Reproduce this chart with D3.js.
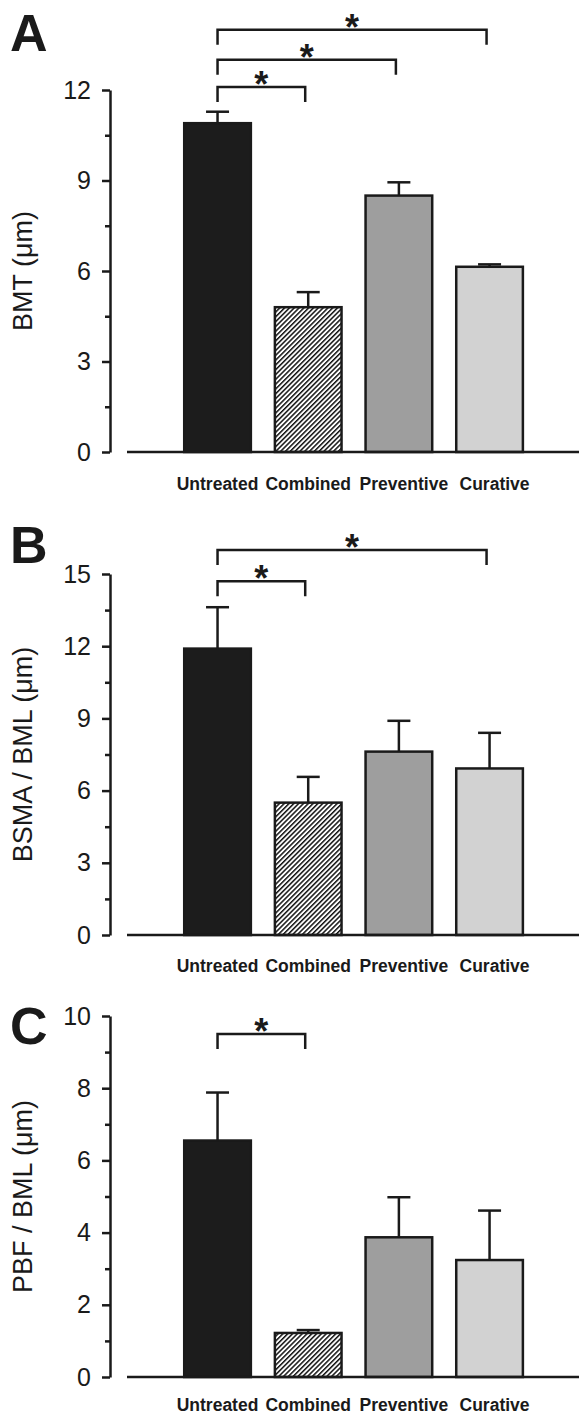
<!DOCTYPE html>
<html>
<head>
<meta charset="utf-8">
<script src="https://cdn.jsdelivr.net/npm/d3@7"></script>
<style>
  body { margin: 0; background: #fff; }
  svg { display: block; }
  text { font-family: "Liberation Sans", Arial, sans-serif; fill: #1a1a1a; }
</style>
</head>
<body>
<svg id="chart" width="579" height="1415"></svg>
<script>
// groups on the x axis
var categories = ["Untreated", "Combined", "Preventive", "Curative"];

// A: BMT (um)
var bmtMean = [10.9, 4.8, 8.5, 6.14];
var bmtErr = [0.38, 0.5, 0.44, 0.08];
var bmtTicks = [0, 3, 6, 9, 12];
var bmtMinor = [1.5, 4.5, 7.5, 10.5];
// [from, to, level]
var bmtSig = [[0, 1, 12.1], [0, 2, 13.0], [0, 3, 14.0]];

// B: BSMA / BML (um)
var bsmaMean = [11.9, 5.5, 7.62, 6.92];
var bsmaErr = [1.72, 1.07, 1.28, 1.48];
var bsmaTicks = [0, 3, 6, 9, 12, 15];
var bsmaMinor = [1.5, 4.5, 7.5, 10.5, 13.5];
var bsmaSig = [[0, 1, 14.7], [0, 3, 16.0]];

// C: PBF / BML (um)
var pbfMean = [6.55, 1.22, 3.87, 3.24];
var pbfErr = [1.33, 0.08, 1.11, 1.37];
var pbfTicks = [0, 2, 4, 6, 8, 10];
var pbfMinor = [1, 3, 5, 7, 9];
var pbfSig = [[0, 1, 9.5]];

var fills = ["#1c1c1c", "url(#hatch)", "#9e9e9e", "#d2d2d2"];
// category text sits a little off the bar centres in the original
var labelShift = [0, 0, 5, 5];

var svg = d3.select("#chart");

// diagonal hatch for the Combined bar
var hw = 3.4;
var pat = svg.append("defs").append("pattern")
  .attr("id", "hatch")
  .attr("patternUnits", "userSpaceOnUse")
  .attr("width", hw)
  .attr("height", hw)
  .attr("patternTransform", "rotate(45)");
pat.append("rect").attr("width", hw).attr("height", hw).attr("fill", "#fff");
pat.append("line")
  .attr("x1", 0).attr("y1", 0).attr("x2", 0).attr("y2", hw)
  .attr("stroke", "#111").attr("stroke-width", 3);

var x = d3.scaleBand()
  .domain(categories)
  .range([172.2, 534.9])
  .paddingInner(0.265)
  .paddingOuter(0.1325);

var panels = [
  { letter: "A", label: "BMT (\u03bcm)", mean: bmtMean, err: bmtErr, ticks: bmtTicks, minor: bmtMinor,
    sig: bmtSig, max: 12, top: 90, bottom: 452, letterY: 51, catY: 490 },
  { letter: "B", label: "BSMA / BML (\u03bcm)", mean: bsmaMean, err: bsmaErr, ticks: bsmaTicks, minor: bsmaMinor,
    sig: bsmaSig, max: 15, top: 574, bottom: 935, letterY: 563, catY: 972 },
  { letter: "C", label: "PBF / BML (\u03bcm)", mean: pbfMean, err: pbfErr, ticks: pbfTicks, minor: pbfMinor,
    sig: pbfSig, max: 10, top: 1016, bottom: 1377, letterY: 1044, catY: 1411 }
];

var axisX = 110;

panels.forEach(function(p) {
  var y = d3.scaleLinear().domain([0, p.max]).range([p.bottom, p.top]);
  var g = svg.append("g");

  // bars
  g.selectAll("rect.bar")
    .data(p.mean)
    .enter().append("rect")
      .attr("class", "bar")
      .attr("x", (d, i) => x(categories[i]))
      .attr("y", d => y(d))
      .attr("width", x.bandwidth())
      .attr("height", d => y(0) - y(d))
      .attr("fill", (d, i) => fills[i])
      .attr("stroke", "#1a1a1a")
      .attr("stroke-width", 2.5);

  // upper error bars
  var eb = g.selectAll("g.err")
    .data(p.mean)
    .enter().append("g")
      .attr("class", "err")
      .attr("stroke", "#1a1a1a")
      .attr("stroke-width", 2.5);
  eb.append("line")
    .attr("x1", (d, i) => x(categories[i]) + x.bandwidth() / 2)
    .attr("x2", (d, i) => x(categories[i]) + x.bandwidth() / 2)
    .attr("y1", d => y(d))
    .attr("y2", (d, i) => y(d + p.err[i]));
  eb.append("line")
    .attr("x1", (d, i) => x(categories[i]) + x.bandwidth() / 2 - 11.5)
    .attr("x2", (d, i) => x(categories[i]) + x.bandwidth() / 2 + 11.5)
    .attr("y1", (d, i) => y(d + p.err[i]))
    .attr("y2", (d, i) => y(d + p.err[i]));

  // baseline
  g.append("line")
    .attr("x1", 127).attr("x2", 579)
    .attr("y1", y(0)).attr("y2", y(0))
    .attr("stroke", "#1a1a1a")
    .attr("stroke-width", 2.5);

  // y axis, major + minor ticks
  var ax = g.append("g")
    .attr("transform", "translate(" + axisX + ",0)")
    .call(d3.axisLeft(y).tickValues(p.ticks).tickSize(8).tickSizeOuter(0).tickPadding(11));
  ax.selectAll("path, line").attr("stroke", "#1a1a1a").attr("stroke-width", 2.5);
  ax.selectAll("text")
    .attr("font-size", 25)
    .attr("font-family", "Liberation Sans, Arial, sans-serif")
    .attr("fill", "#1a1a1a");

  var mx = g.append("g")
    .attr("transform", "translate(" + axisX + ",0)")
    .call(d3.axisLeft(y).tickValues(p.minor).tickSize(5).tickFormat(""));
  mx.select(".domain").remove();
  mx.selectAll("line").attr("stroke", "#1a1a1a").attr("stroke-width", 2.5);

  // y label
  g.append("text")
    .attr("transform", "translate(32," + ((p.top + p.bottom) / 2) + ") rotate(-90)")
    .attr("text-anchor", "middle")
    .attr("font-size", 27)
    .text(p.label);

  // panel letter
  g.append("text")
    .attr("x", 10)
    .attr("y", p.letterY)
    .attr("font-size", 52)
    .attr("font-weight", "bold")
    .text(p.letter);

  // category labels
  g.selectAll("text.cat")
    .data(categories)
    .enter().append("text")
      .attr("class", "cat")
      .attr("x", (d, i) => x(d) + x.bandwidth() / 2 + labelShift[i])
      .attr("y", p.catY)
      .attr("text-anchor", "middle")
      .attr("font-size", 17.5)
      .attr("font-weight", "bold")
      .text(d => d);

  // significance brackets
  p.sig.forEach(function(s) {
    var x1 = x(categories[s[0]]) + x.bandwidth() / 2;
    var x2 = x(categories[s[1]]) + x.bandwidth() / 2 - 3;
    var yy = y(s[2]);
    g.append("path")
      .attr("d", "M" + x1 + "," + (yy + 15) + "V" + yy + "H" + x2 + "V" + (yy + 15))
      .attr("fill", "none")
      .attr("stroke", "#1a1a1a")
      .attr("stroke-width", 2.5);
    g.append("text")
      .attr("x", (x1 + x2) / 2)
      .attr("y", yy + 10)
      .attr("text-anchor", "middle")
      .attr("font-size", 36)
      .attr("font-weight", "bold")
      .text("*");
  });
});
</script>
</body>
</html>
